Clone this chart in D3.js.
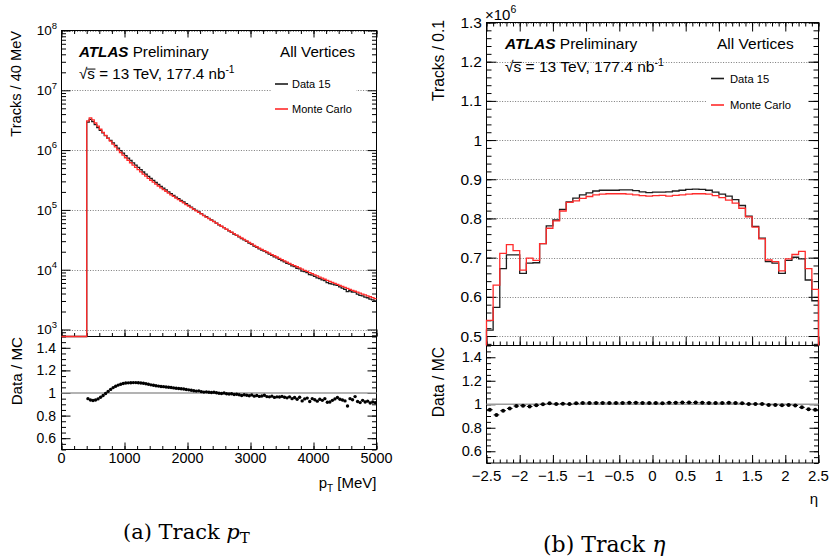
<!DOCTYPE html>
<html><head><meta charset="utf-8">
<script src="https://cdn.jsdelivr.net/npm/d3@7"></script>
<style>
body{margin:0;background:#fff;}
svg{display:block;}
text{font-family:"Liberation Sans",Arial,Helvetica,sans-serif;fill:#000;}
.cap{font-family:"DejaVu Serif",serif;}
</style></head><body>
<svg id="c" width="831" height="556"></svg>
<script>
// ---------- Track pT: 40 MeV bins from 400 MeV, simulated yields and Data/MC ratio ----------
const ptBinWidth = 40;
const ptFirstEdge = 400;
const ptMC = [
  3.09e6, 3.47e6, 3.20e6, 2.84e6, 2.52e6, 2.23e6, 1.98e6, 1.76e6, 1.57e6, 1.41e6,
  1.26e6, 1.13e6, 1.01e6, 9.12e5, 8.22e5, 7.45e5, 6.76e5, 6.14e5, 5.61e5, 5.13e5,
  4.70e5, 4.32e5, 3.96e5, 3.66e5, 3.38e5, 3.13e5, 2.91e5, 2.70e5, 2.51e5, 2.34e5,
  2.19e5, 2.05e5, 1.91e5, 1.79e5, 1.68e5, 1.57e5, 1.48e5, 1.39e5, 1.31e5, 1.23e5,
  1.16e5, 1.09e5, 1.02e5, 9.62e4, 9.08e4, 8.55e4, 8.05e4, 7.60e4, 7.16e4, 6.76e4,
  6.37e4, 6.00e4, 5.66e4, 5.33e4, 5.04e4, 4.75e4, 4.49e4, 4.25e4, 4.01e4, 3.79e4,
  3.59e4, 3.39e4, 3.21e4, 3.03e4, 2.86e4, 2.71e4, 2.56e4, 2.42e4, 2.30e4, 2.19e4,
  2.08e4, 1.99e4, 1.89e4, 1.79e4, 1.71e4, 1.63e4, 1.55e4, 1.47e4, 1.41e4, 1.34e4,
  1.28e4, 1.22e4, 1.17e4, 1.12e4, 1.07e4, 1.02e4, 9.77e3, 9.35e3, 8.95e3, 8.57e3,
  8.22e3, 7.87e3, 7.53e3, 7.21e3, 6.92e3, 6.64e3, 6.38e3, 6.14e3, 5.90e3, 5.68e3,
  5.47e3, 5.26e3, 5.06e3, 4.86e3, 4.68e3, 4.51e3, 4.36e3, 4.21e3, 4.06e3, 3.92e3,
  3.78e3, 3.66e3, 3.53e3, 3.41e3, 3.29e3
];
const ptRatio = [
  0.950, 0.938, 0.934, 0.938, 0.948, 0.962, 0.978, 0.996, 1.014, 1.032,
  1.048, 1.060, 1.070, 1.078, 1.084, 1.088, 1.090, 1.091, 1.092, 1.092,
  1.091, 1.089, 1.086, 1.082, 1.077, 1.072, 1.068, 1.064, 1.061, 1.058,
  1.056, 1.053, 1.051, 1.049, 1.045, 1.042, 1.040, 1.037, 1.035, 1.031,
  1.028, 1.024, 1.020, 1.017, 1.019, 1.012, 1.008, 1.010, 1.007, 1.004,
  1.006, 1.002, 0.998, 0.996, 1.000, 0.993, 0.991, 0.994, 0.987, 0.989,
  0.984, 0.978, 0.985, 0.980, 0.976, 0.983, 0.972, 0.978, 0.970, 0.974,
  0.980, 0.968, 0.966, 0.972, 0.961, 0.966, 0.964, 0.970, 0.962, 0.957,
  0.966, 0.950, 0.960, 0.945, 0.962, 0.930, 0.948, 0.955, 0.925, 0.950,
  0.940, 0.928, 0.945, 0.935, 0.950, 0.918, 0.920, 0.935, 0.948, 0.960,
  0.945, 0.938, 0.930, 0.885, 0.950, 0.940, 0.968, 0.925, 0.915, 0.935,
  0.920, 0.928, 0.912, 0.920, 0.915
];
const ptTicks = [0, 1000, 2000, 3000, 4000, 5000];
const ptDecades = [3, 4, 5, 6, 7, 8];

// ---------- Track eta: 0.1 wide bins from -2.5 to 2.5, tracks in units of 10^6 ----------
const etaBinWidth = 0.1;
const etaFirstEdge = -2.5;
const etaData = [
  0.515, 0.573, 0.672, 0.707, 0.707, 0.660, 0.686, 0.687, 0.736, 0.781,
  0.796, 0.823, 0.842, 0.852, 0.860, 0.865, 0.870, 0.872, 0.872, 0.872,
  0.873, 0.873, 0.871, 0.868, 0.866, 0.867, 0.867, 0.868, 0.870, 0.872,
  0.874, 0.875, 0.874, 0.872, 0.867, 0.862, 0.857, 0.848, 0.833, 0.806,
  0.780, 0.750, 0.690, 0.686, 0.660, 0.693, 0.701, 0.697, 0.643, 0.590
];
const etaMC = [
  0.540, 0.630, 0.711, 0.733, 0.718, 0.668, 0.699, 0.693, 0.736, 0.775,
  0.794, 0.819, 0.841, 0.845, 0.851, 0.856, 0.860, 0.862, 0.863, 0.863,
  0.863, 0.862, 0.860, 0.858, 0.857, 0.858, 0.859, 0.857, 0.859, 0.860,
  0.862, 0.863, 0.863, 0.862, 0.858, 0.853, 0.847, 0.839, 0.826, 0.804,
  0.778, 0.748, 0.694, 0.690, 0.666, 0.697, 0.708, 0.716, 0.672, 0.619
];
const etaTicks = [-2.5, -2, -1.5, -1, -0.5, 0, 0.5, 1, 1.5, 2, 2.5];
const etaYTicks = [0.5, 0.6, 0.7, 0.8, 0.9, 1, 1.1, 1.2, 1.3];
const ratioTicks = [0.6, 0.8, 1, 1.2, 1.4];

const DATA_COL = "#1c1c1c", MC_COL = "#ff2b2b";
const svg = d3.select("#c");
const fmt = v => (v < 0 ? "\u2212" : "") + String(Math.abs(v));

function rng(a, b, s) {
  const n = Math.round((b - a) / s);
  return d3.range(n + 1).map(i => +(a + i * s).toFixed(6));
}

// inward ticks on all four sides of a frame
function ticks(g, x, y, box, o) {
  const add = (axis, tr) => g.append("g").attr("transform", tr).call(axis)
    .call(s => s.select(".domain").remove())
    .call(s => s.selectAll("line").attr("stroke", "#000").attr("stroke-width", 1));
  [[o.xMaj, o.xMajLen], [o.xMin, o.xMinLen]].forEach(([vals, len]) => {
    if (o.xBottom !== false) add(d3.axisBottom(x).tickValues(vals).tickSize(-len).tickFormat(""), `translate(0,${box.y1})`);
    if (o.xTop !== false) add(d3.axisTop(x).tickValues(vals).tickSize(-len).tickFormat(""), `translate(0,${box.y0})`);
  });
  [[o.yMaj, o.yMajLen], [o.yMin, o.yMinLen]].forEach(([vals, len]) => {
    add(d3.axisLeft(y).tickValues(vals).tickSize(-len).tickFormat(""), `translate(${box.x0},0)`);
    add(d3.axisRight(y).tickValues(vals).tickSize(-len).tickFormat(""), `translate(${box.x1},0)`);
  });
}

function gridlines(g, y, vals, box) {
  g.selectAll(null).data(vals).join("line")
    .attr("x1", box.x0).attr("x2", box.x1)
    .attr("y1", d => Math.round(y(d)) + 0.5).attr("y2", d => Math.round(y(d)) + 0.5)
    .attr("stroke", "#7a7a7a").attr("stroke-width", 1).attr("stroke-dasharray", "1 1.6");
}

function frame(g, box) {
  g.append("rect").attr("x", box.x0).attr("y", box.y0)
    .attr("width", box.x1 - box.x0).attr("height", box.y1 - box.y0)
    .attr("fill", "none").attr("stroke", "#000").attr("stroke-width", 1);
}

// staircase outline of a binned histogram
function stepPath(firstEdge, width, vals, x, y, lead, trail) {
  const pts = [];
  if (lead) lead.forEach(p => pts.push(p));
  vals.forEach((v, i) => {
    pts.push([x(firstEdge + i * width), y(v)]);
    pts.push([x(firstEdge + (i + 1) * width), y(v)]);
  });
  if (trail) trail.forEach(p => pts.push(p));
  return d3.line()(pts);
}

function rotTitle(g, txt, x, yEnd, size) {
  g.append("text").attr("transform", `translate(${x},${yEnd}) rotate(-90)`)
    .attr("text-anchor", "end").style("font-size", size + "px").text(txt);
}

function atlasBlock(g, x, yA, yS, xAll, size) {
  const t = g.append("text").attr("x", x).attr("y", yA).style("font-size", size + "px");
  t.append("tspan").style("font-weight", "bold").style("font-style", "italic").text("ATLAS");
  t.append("tspan").text(" Preliminary");
  g.append("text").attr("x", xAll).attr("y", yA).style("font-size", size + "px").text("All Vertices");
  const s = g.append("text").attr("x", x).attr("y", yS).style("font-size", size + "px");
  s.append("tspan").text("\u221As = 13 TeV, 177.4 nb");
  s.append("tspan").attr("dy", -6).style("font-size", (size * 0.68) + "px").text("-1");
  const n = s.node();
  const sx0 = n.getStartPositionOfChar(1).x, sx1 = n.getEndPositionOfChar(1).x;
  g.append("line").attr("x1", sx0 - 0.5).attr("x2", sx1 + 0.5)
    .attr("y1", yS - size * 0.62).attr("y2", yS - size * 0.62)
    .attr("stroke", "#000").attr("stroke-width", 1);
}

function legend(g, xl, xt, y1, y2, size) {
  [[y1, DATA_COL, "Data 15"], [y2, MC_COL, "Monte Carlo"]].forEach(([yy, c, lab]) => {
    g.append("line").attr("x1", xl).attr("x2", xl + 13).attr("y1", yy).attr("y2", yy)
      .attr("stroke", c).attr("stroke-width", 1.6);
    g.append("text").attr("x", xt).attr("y", yy + 4).style("font-size", size + "px").text(lab);
  });
}

// =================== (a) Track pT ===================
{
  const g = svg.append("g");
  const top = { x0: 61.5, x1: 376.5, y0: 30.5, y1: 336.5 };
  const rat = { x0: 61.5, x1: 376.5, y0: 336.5, y1: 449.5 };
  const x = d3.scaleLinear().domain([0, 5000]).range([top.x0, top.x1]);
  const y = d3.scaleLog().domain([764, 1e8]).range([top.y1, top.y0]).clamp(true);
  const yr = d3.scaleLinear().domain([0.5, 1.5]).range([rat.y1, rat.y0]).clamp(true);

  const majLog = ptDecades.map(n => Math.pow(10, n));
  const minLog = [];
  for (let n = 2; n < 8; n++) for (let m = 2; m <= 9; m++) {
    const v = m * Math.pow(10, n);
    if (v >= y.domain()[0] && v <= 1e8) minLog.push(v);
  }

  gridlines(g, y, majLog, top);
  // white legend box hides the grid behind the entries
  g.append("rect").attr("x", 271).attr("y", 76).attr("width", 85).attr("height", 42).attr("fill", "#fff");
  frame(g, top);
  frame(g, rat);
  ticks(g, x, y, top, { xMaj: ptTicks, xMin: rng(0, 5000, 200), xMajLen: 7, xMinLen: 3.5,
    yMaj: majLog, yMin: minLog, yMajLen: 9, yMinLen: 4.5 });
  ticks(g, x, yr, rat, { xMaj: ptTicks, xMin: rng(0, 5000, 200), xMajLen: 7, xMinLen: 3.5, xTop: false,
    yMaj: ratioTicks, yMin: rng(0.5, 1.5, 0.05), yMajLen: 9, yMinLen: 4.5 });

  // histograms: data derived from the MC yields and the measured ratio
  const ptData = ptMC.map((v, i) => v * ptRatio[i]);
  const lead = [[x(0), top.y1], [x(ptFirstEdge), top.y1]];
  g.append("path").attr("d", stepPath(ptFirstEdge, ptBinWidth, ptData, x, y, lead))
    .attr("fill", "none").attr("stroke", DATA_COL).attr("stroke-width", 1.3);
  g.append("path").attr("d", stepPath(ptFirstEdge, ptBinWidth, ptMC, x, y, lead))
    .attr("fill", "none").attr("stroke", MC_COL).attr("stroke-width", 1.3);

  // ratio panel
  g.append("line").attr("x1", rat.x0).attr("x2", rat.x1).attr("y1", yr(1)).attr("y2", yr(1))
    .attr("stroke", "#9a9a9a").attr("stroke-width", 1.3);
  g.selectAll(null).data(ptRatio).join("circle")
    .attr("cx", (d, i) => x(ptFirstEdge + (i + 0.5) * ptBinWidth)).attr("cy", d => yr(d))
    .attr("r", 1.7).attr("fill", "#000");

  // labels
  ptDecades.forEach(n => {
    const t = g.append("text").attr("x", 57).attr("y", y(Math.pow(10, n)) + 4.8)
      .attr("text-anchor", "end").style("font-size", "13.5px");
    t.append("tspan").text("10");
    t.append("tspan").attr("dy", -6.5).style("font-size", "9.5px").text(n);
  });
  ratioTicks.forEach(v => g.append("text").attr("x", 56).attr("y", yr(v) + 5)
    .attr("text-anchor", "end").style("font-size", "14px").text(fmt(v)));
  ptTicks.forEach(v => g.append("text").attr("x", x(v)).attr("y", 463)
    .attr("text-anchor", "middle").style("font-size", "14.4px").text(fmt(v)));

  rotTitle(g, "Tracks / 40 MeV", 21, 31, 14.6);
  rotTitle(g, "Data / MC", 22, 337, 15.2);
  const xt = g.append("text").attr("x", 376.5).attr("y", 488).attr("text-anchor", "end").style("font-size", "15px");
  xt.append("tspan").text("p");
  xt.append("tspan").attr("dy", 4).style("font-size", "10px").text("T");
  xt.append("tspan").attr("dy", -4).text(" [MeV]");

  atlasBlock(g, 79, 56.5, 78.5, 280, 15.2);
  legend(g, 275, 292, 84, 109, 11);

  const cap = g.append("text").attr("class", "cap").attr("x", 123).attr("y", 539).style("font-size", "21px");
  cap.append("tspan").text("(a) Track ");
  cap.append("tspan").style("font-style", "italic").text("p");
  cap.append("tspan").attr("dy", 4).style("font-size", "15px").text("T");
}

// =================== (b) Track eta ===================
{
  const g = svg.append("g");
  const top = { x0: 486.5, x1: 818.5, y0: 22.5, y1: 345.5 };
  const rat = { x0: 486.5, x1: 818.5, y0: 345.5, y1: 463 };
  const x = d3.scaleLinear().domain([-2.5, 2.5]).range([top.x0, top.x1]);
  const y = d3.scaleLinear().domain([0.4758, 1.3]).range([top.y1, top.y0]).clamp(true);
  const yr = d3.scaleLinear().domain([0.5, 1.5]).range([rat.y1, rat.y0]).clamp(true);

  gridlines(g, y, etaYTicks, top);
  g.append("rect").attr("x", 707).attr("y", 70).attr("width", 101).attr("height", 46).attr("fill", "#fff");
  frame(g, top);
  frame(g, rat);
  ticks(g, x, y, top, { xMaj: etaTicks, xMin: rng(-2.5, 2.5, 0.1), xMajLen: 9, xMinLen: 4,
    yMaj: etaYTicks, yMin: rng(0.48, 1.3, 0.02), yMajLen: 10, yMinLen: 5 });
  ticks(g, x, yr, rat, { xMaj: etaTicks, xMin: rng(-2.5, 2.5, 0.1), xMajLen: 8, xMinLen: 3.5, xTop: false,
    yMaj: ratioTicks, yMin: rng(0.5, 1.5, 0.05), yMajLen: 9, yMinLen: 4.5 });

  const lead = [[x(etaFirstEdge), top.y1]];
  const trail = [[x(2.5), top.y1]];
  g.append("path").attr("d", stepPath(etaFirstEdge, etaBinWidth, etaData, x, y, lead, trail))
    .attr("fill", "none").attr("stroke", DATA_COL).attr("stroke-width", 1.3);
  g.append("path").attr("d", stepPath(etaFirstEdge, etaBinWidth, etaMC, x, y, lead, trail))
    .attr("fill", "none").attr("stroke", MC_COL).attr("stroke-width", 1.3);

  const etaRatio = etaData.map((v, i) => v / etaMC[i]);
  g.append("line").attr("x1", rat.x0).attr("x2", rat.x1).attr("y1", yr(1)).attr("y2", yr(1))
    .attr("stroke", "#9a9a9a").attr("stroke-width", 1.3);
  g.selectAll(null).data(etaRatio).join("line")
    .attr("x1", (d, i) => x(etaFirstEdge + i * etaBinWidth) + 0.5)
    .attr("x2", (d, i) => x(etaFirstEdge + (i + 1) * etaBinWidth) - 0.5)
    .attr("y1", d => yr(d)).attr("y2", d => yr(d)).attr("stroke", "#000").attr("stroke-width", 1);
  g.selectAll(null).data(etaRatio).join("circle")
    .attr("cx", (d, i) => x(etaFirstEdge + (i + 0.5) * etaBinWidth)).attr("cy", d => yr(d))
    .attr("r", 2).attr("fill", "#000");

  etaYTicks.forEach(v => g.append("text").attr("x", 482).attr("y", y(v) + 5.5)
    .attr("text-anchor", "end").style("font-size", "15.5px").text(fmt(v)));
  ratioTicks.forEach(v => g.append("text").attr("x", 482).attr("y", yr(v) + 5.2)
    .attr("text-anchor", "end").style("font-size", "14.6px").text(fmt(v)));
  etaTicks.forEach(v => g.append("text").attr("x", x(v)).attr("y", 481)
    .attr("text-anchor", "middle").style("font-size", "15px").text(fmt(v)));

  const mult = g.append("text").attr("x", 485).attr("y", 19.5).style("font-size", "15px");
  mult.append("tspan").text("\u00D710");
  mult.append("tspan").attr("dy", -7).style("font-size", "10.5px").text("6");

  rotTitle(g, "Tracks / 0.1", 443.5, 20, 15.6);
  rotTitle(g, "Data / MC", 443.5, 347, 15.6);
  g.append("text").attr("x", 818).attr("y", 504).attr("text-anchor", "end")
    .style("font-size", "15px").text("\u03B7");

  atlasBlock(g, 505, 49, 72, 717, 15.5);
  legend(g, 711, 730, 78.5, 105, 11.2);

  const cap = g.append("text").attr("class", "cap").attr("x", 543).attr("y", 552).style("font-size", "22px");
  cap.append("tspan").text("(b) Track ");
  cap.append("tspan").style("font-style", "italic").text("\u03B7");
}
</script>
</body></html>
